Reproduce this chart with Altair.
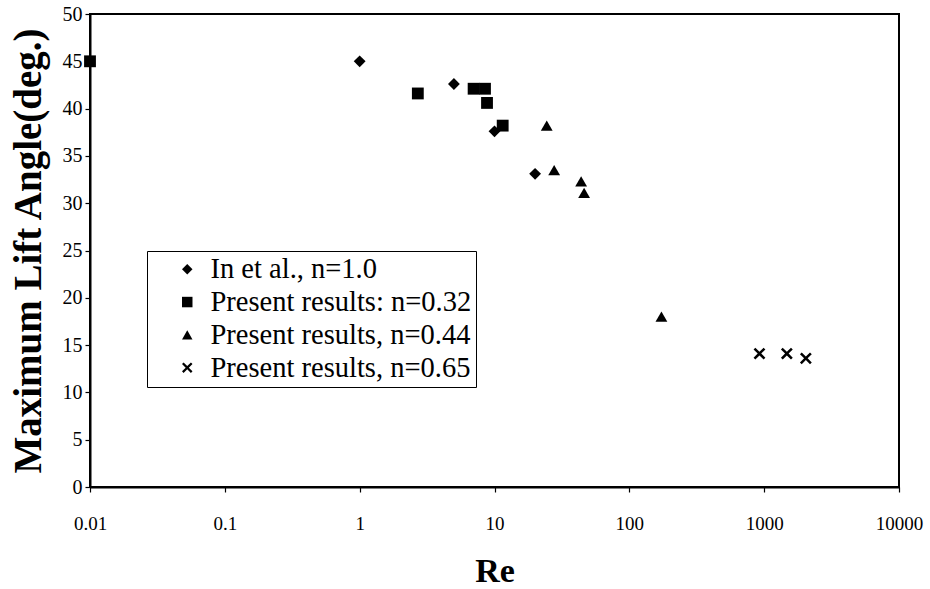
import altair as alt
import pandas as pd

# ---- data ----
series_names = [
    "In et al., n=1.0",
    "Present results: n=0.32",
    "Present results, n=0.44",
    "Present results, n=0.65",
]
re_in = [1, 5, 10, 20]
ang_in = [45.0, 42.6, 37.6, 33.1]

re_032 = [0.01, 2.7, 7.0, 8.5, 8.8, 11.5]
ang_032 = [45.0, 41.6, 42.1, 42.1, 40.6, 38.2]

re_044 = [24.4, 27.7, 43.9, 46.2, 173]
ang_044 = [38.2, 33.5, 32.3, 31.1, 18.0]

re_065 = [923, 1473, 2038]
ang_065 = [14.1, 14.1, 13.6]

x_ticks = [0.01, 0.1, 1, 10, 100, 1000, 10000]
y_ticks = [0, 5, 10, 15, 20, 25, 30, 35, 40, 45, 50]

rows = []
for name, xs, ys in zip(series_names, [re_in, re_032, re_044, re_065],
                        [ang_in, ang_032, ang_044, ang_065]):
    for xv, yv in zip(xs, ys):
        rows.append({"Re": xv, "Angle": yv, "Series": name})
df = pd.DataFrame(rows)

x_shape = "M-1,-0.7L-0.7,-1L0,-0.3L0.7,-1L1,-0.7L0.3,0L1,0.7L0.7,1L0,0.3L-0.7,1L-1,0.7L-0.3,0Z"
shapes = ["diamond", "square", "triangle-up", x_shape]

FONT = "Liberation Serif"

chart = alt.Chart(df).mark_point(filled=True, opacity=1, size=140, color="black").encode(
    x=alt.X(
        "Re:Q",
        scale=alt.Scale(type="log", domain=[0.01, 10000], nice=False),
        axis=alt.Axis(
            values=x_ticks, format="~g", title="Re", grid=False,
            labelFontSize=19, labelPadding=22, labelFlush=False, labelOverlap=False,
            tickSize=5, titleFontSize=34, titleFontWeight="bold",
            titleY=94, titleBaseline="alphabetic",
        ),
    ),
    y=alt.Y(
        "Angle:Q",
        scale=alt.Scale(domain=[0, 50], nice=False),
        axis=alt.Axis(
            values=y_ticks, title="Maximum Lift Angle(deg.)", grid=False,
            labelFontSize=20, labelPadding=3, tickSize=5,
            titleFontSize=39, titleFontWeight="bold",
            titleAngle=270, titleX=-50, titleY=236.5,
            titleBaseline="alphabetic", titleAlign="center",
        ),
    ),
    shape=alt.Shape(
        "Series:N",
        scale=alt.Scale(domain=series_names, range=shapes),
        legend=alt.Legend(
            title=None, orient="none", legendX=57, legendY=237,
            labelFontSize=28.5, labelFont=FONT, labelColor="black",
            symbolSize=110, symbolFillColor="black", symbolStrokeWidth=0,
            symbolOffset=22, labelOffset=9, rowPadding=3.8,
            padding=4, strokeColor="black", fillColor="white",
            labelLimit=0,
        ),
    ),
).properties(
    width=809, height=473,
    autosize=alt.AutoSizeParams(type="none"),
    padding={"left": 90, "top": 14, "right": 31, "bottom": 102},
).configure_axis(
    labelFont=FONT, titleFont=FONT, labelColor="black", titleColor="black",
    domainColor="black", domainWidth=2, tickColor="black", tickWidth=1.2,
).configure_view(
    stroke="black", strokeWidth=2,
)

chart.save("out.html", embed_options={"renderer": "svg", "actions": False})
